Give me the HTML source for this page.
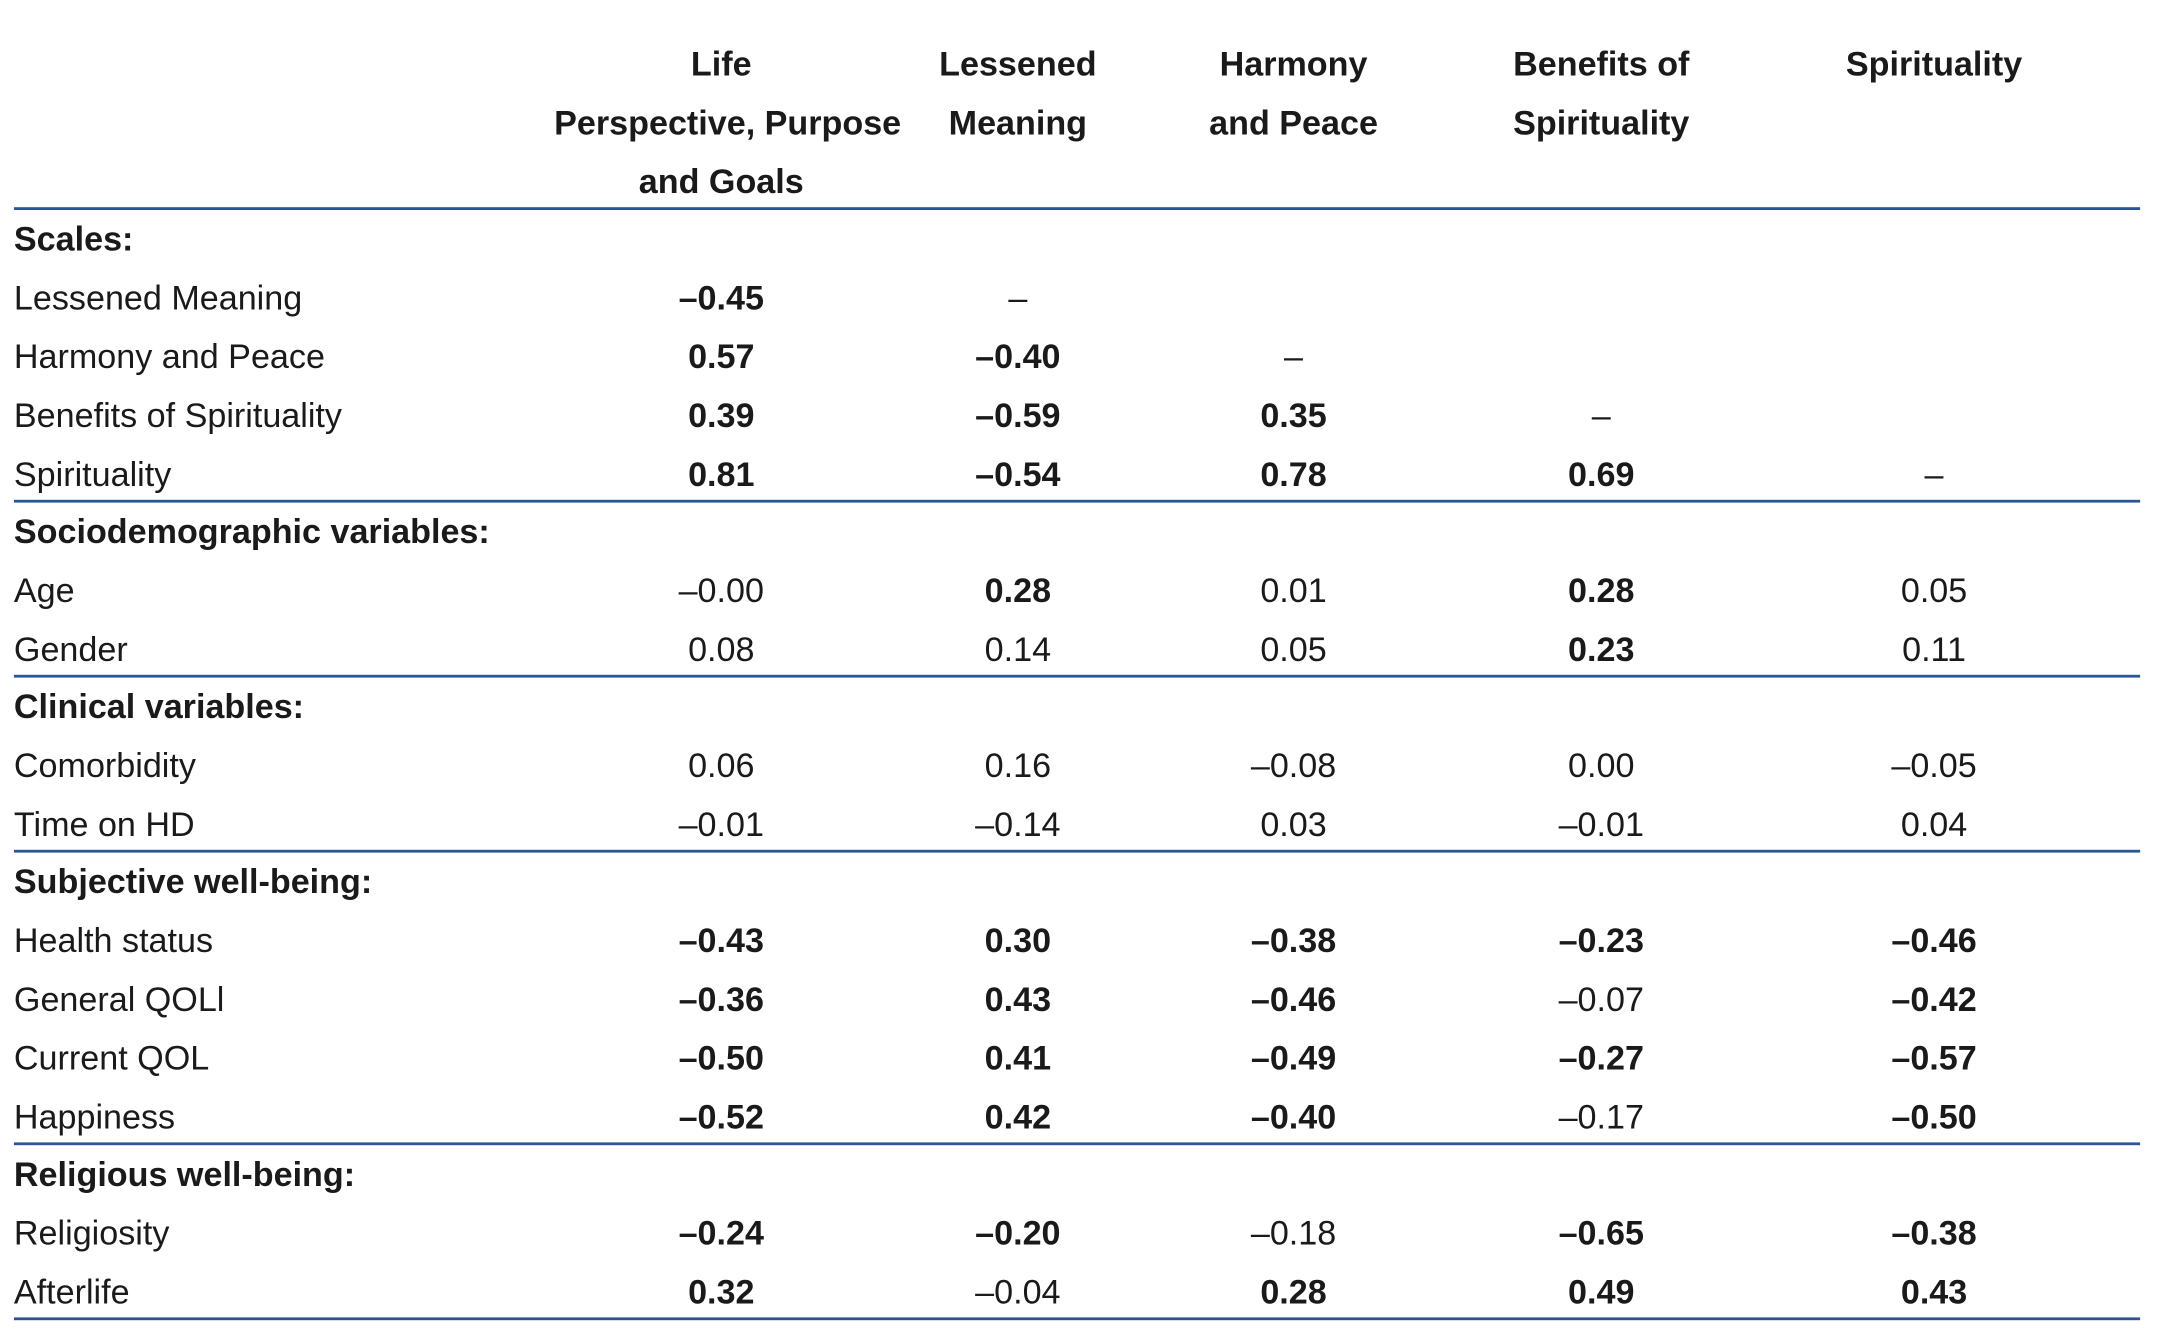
<!DOCTYPE html>
<html><head><meta charset="utf-8">
<style>
html,body{margin:0;padding:0;background:#fff;}
body{width:2183px;height:1329px;overflow:hidden;position:relative;}
#wrap{position:absolute;left:0;top:0;width:1550px;height:944px;transform:scale(1.3924,1.400);transform-origin:0 0;font-family:"Liberation Sans",sans-serif;color:#1a1a1a;font-size:24.5px;}
.t{position:absolute;height:42px;line-height:42px;white-space:nowrap;}
.c{width:240px;text-align:center;}
.b{font-weight:bold;}
.ln{position:absolute;left:10px;width:1527px;height:2px;background:#2a5597;}
</style></head><body>
<div id="wrap"></div>
<script>
const colCenters=[518,731,929,1150,1389];
const headers=[["Life","Perspective, Purpose","and Goals"],["Lessened","Meaning"],["Harmony","and Peace"],["Benefits of","Spirituality"],["Spirituality"]];
const sections=[
 {title:"Scales:",rows:[
  ["Lessened Meaning",["*–0.45","–","","",""]],
  ["Harmony and Peace",["*0.57","*–0.40","–","",""]],
  ["Benefits of Spirituality",["*0.39","*–0.59","*0.35","–",""]],
  ["Spirituality",["*0.81","*–0.54","*0.78","*0.69","–"]]]},
 {title:"Sociodemographic variables:",rows:[
  ["Age",["–0.00","*0.28","0.01","*0.28","0.05"]],
  ["Gender",["0.08","0.14","0.05","*0.23","0.11"]]]},
 {title:"Clinical variables:",rows:[
  ["Comorbidity",["0.06","0.16","–0.08","0.00","–0.05"]],
  ["Time on HD",["–0.01","–0.14","0.03","–0.01","0.04"]]]},
 {title:"Subjective well-being:",rows:[
  ["Health status",["*–0.43","*0.30","*–0.38","*–0.23","*–0.46"]],
  ["General QOLl",["*–0.36","*0.43","*–0.46","–0.07","*–0.42"]],
  ["Current QOL",["*–0.50","*0.41","*–0.49","*–0.27","*–0.57"]],
  ["Happiness",["*–0.52","*0.42","*–0.40","–0.17","*–0.50"]]]},
 {title:"Religious well-being:",rows:[
  ["Religiosity",["*–0.24","*–0.20","–0.18","*–0.65","*–0.38"]],
  ["Afterlife",["*0.32","–0.04","*0.28","*0.49","*0.43"]]]}
];
const W=document.getElementById('wrap');
function txt(s,x,cy,cls,name){const d=document.createElement('div');d.className='t '+cls;d.textContent=s;d.style.top=(cy-21)+'px';
 if(cls.indexOf('c')>=0)d.style.left=(x-120)+'px';else d.style.left=x+'px';
 
 
 W.appendChild(d);}
function line(y){const l=document.createElement('div');l.className='ln';l.style.top=(y-1)+'px';
 
 
 W.appendChild(l);}
headers.forEach((h,i)=>h.forEach((s,j)=>txt(s,colCenters[i],47+42*j,'c b','column-header')));
let y=149;line(y);
sections.forEach(sec=>{
 y+=23;txt(sec.title,10,y,'b','section-title');
 sec.rows.forEach(r=>{y+=42;txt(r[0],10,y,'','row-label');
  r[1].forEach((v,i)=>{if(!v)return;const bold=v[0]==='*';txt(bold?v.slice(1):v,colCenters[i],y,'c'+(bold?' b':''),'cell-value');});});
 y+=18;line(y);
});
</script>
</body></html>
